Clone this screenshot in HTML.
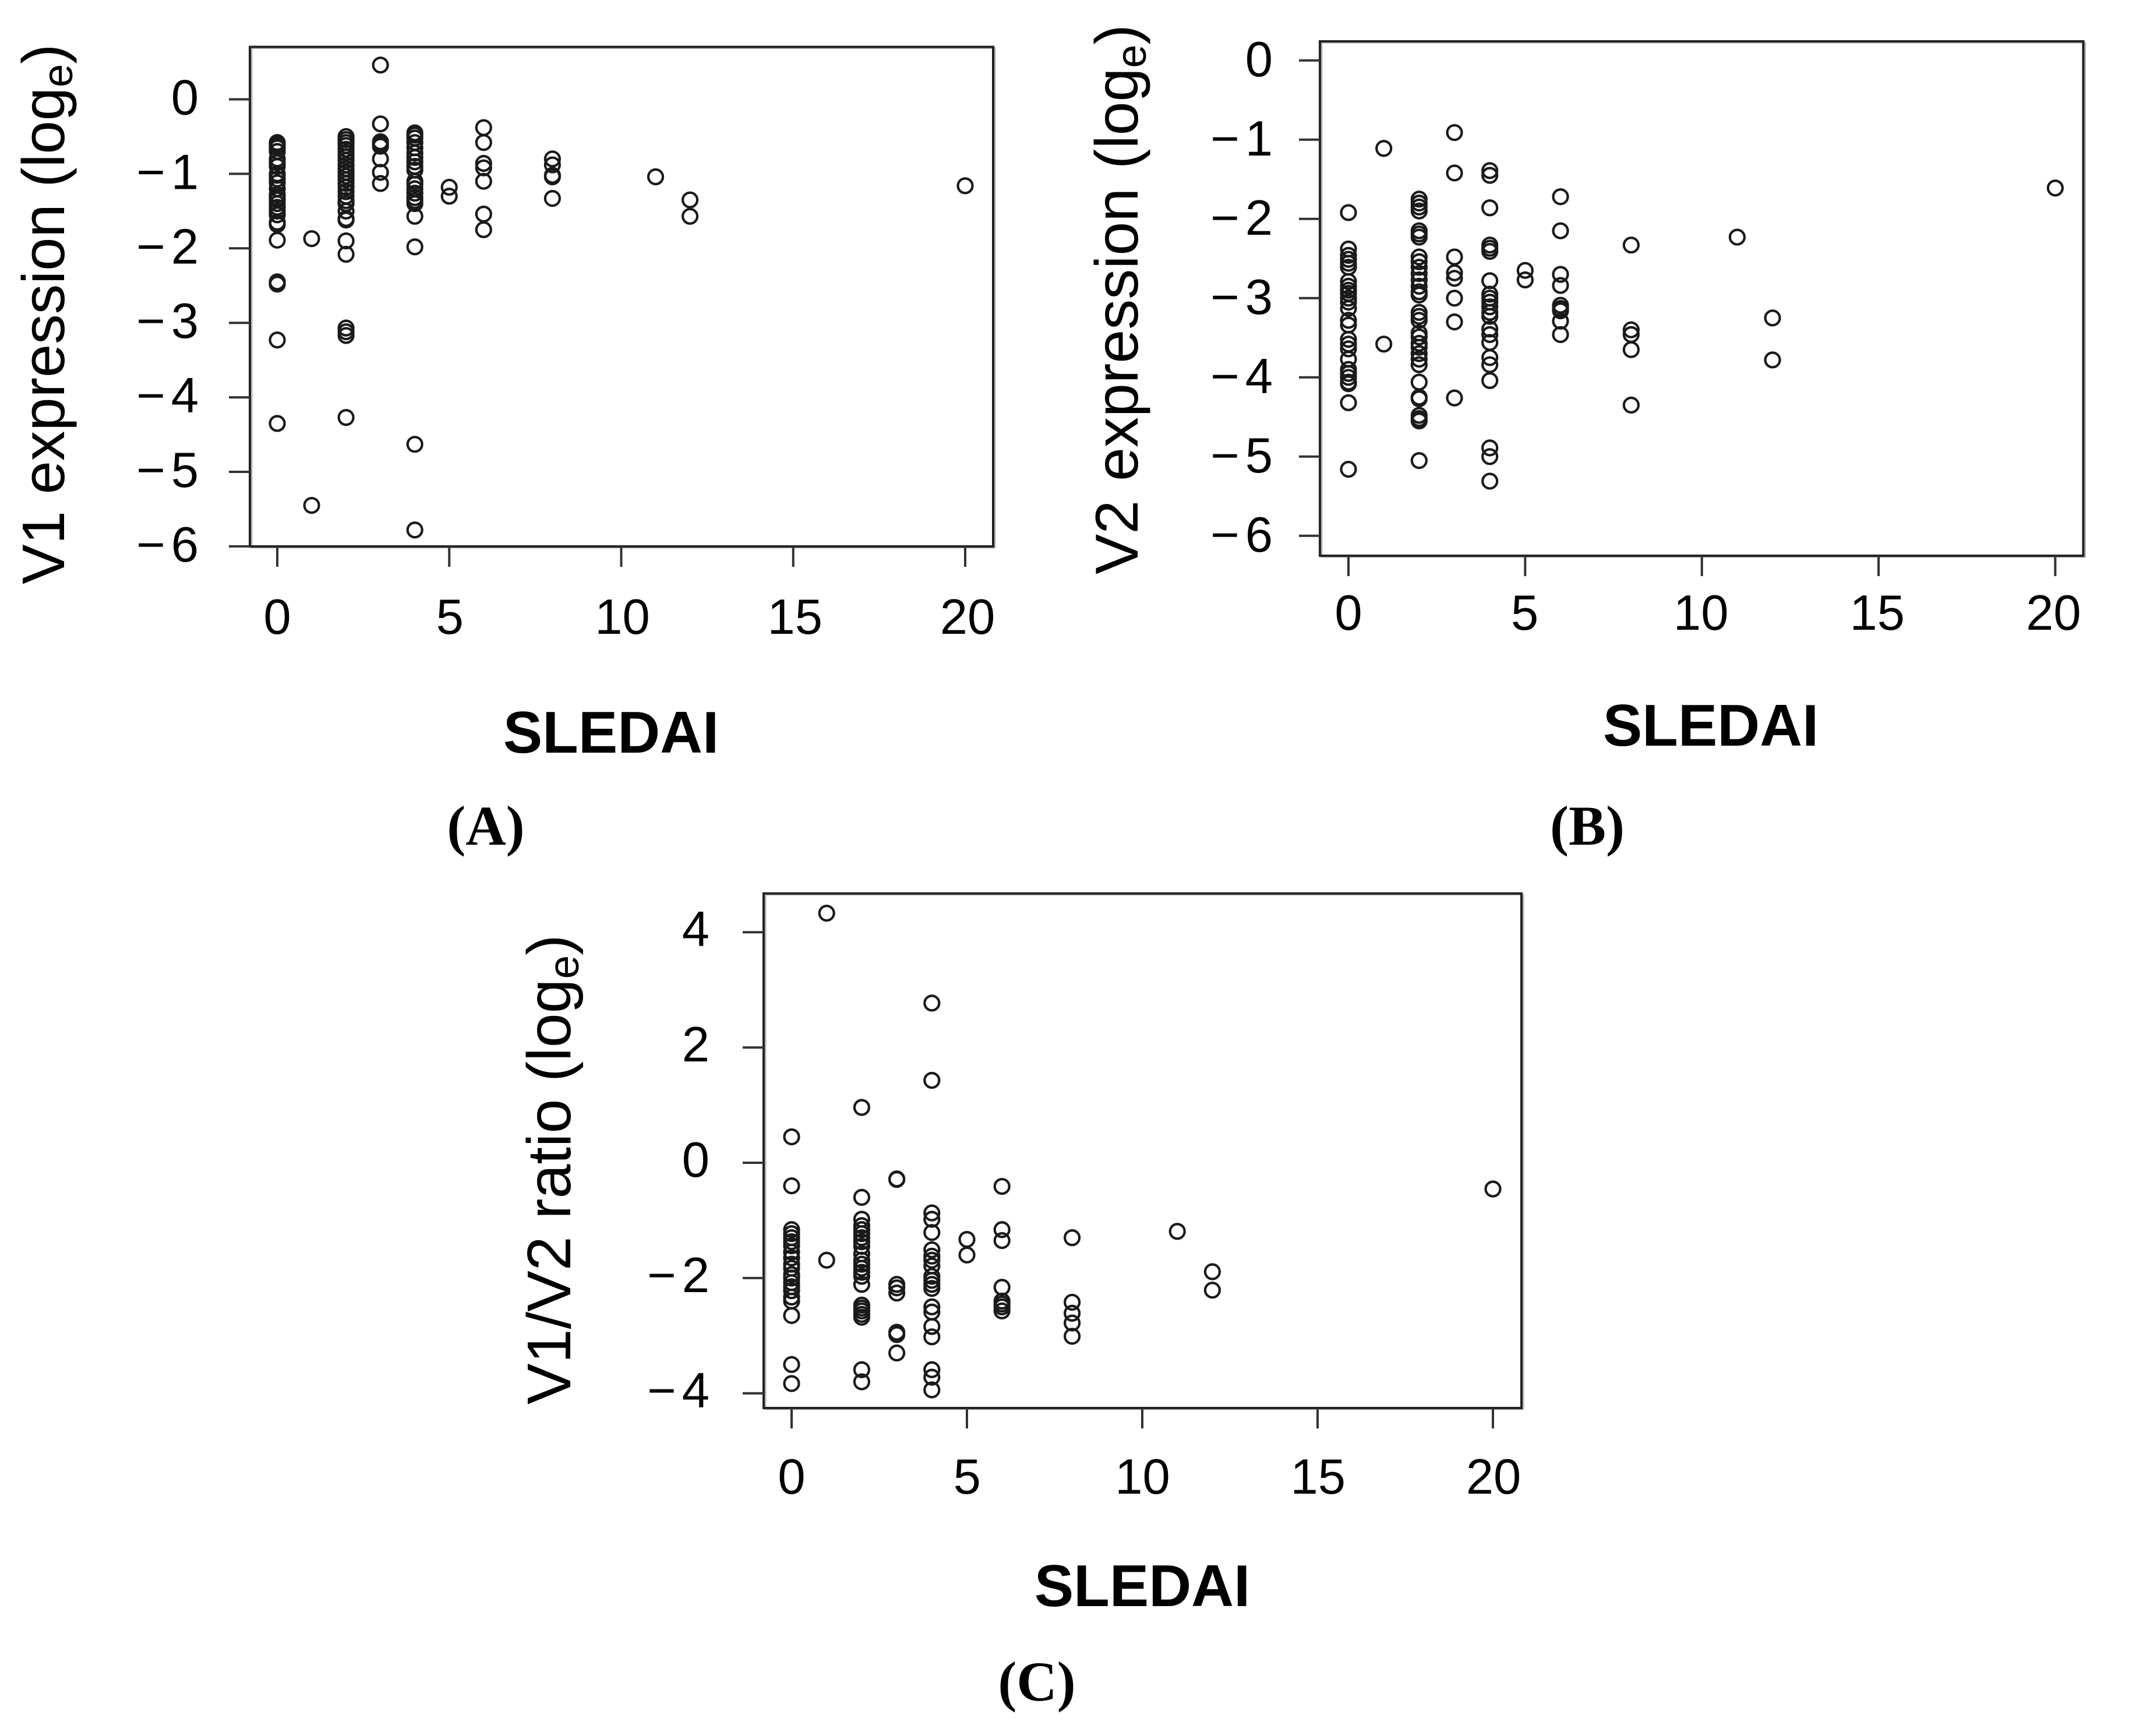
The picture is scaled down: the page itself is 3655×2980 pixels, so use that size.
<!DOCTYPE html>
<html lang="en">
<head>
<meta charset="utf-8">
<title>V1, V2 expression and V1/V2 ratio versus SLEDAI</title>
<style>
html,body{margin:0;padding:0;background:#fff;}
svg{display:block;}
text{font-family:"Liberation Sans",sans-serif;fill:#000;}
.serif{font-family:"Liberation Serif",serif;font-weight:bold;}
.xt{font-size:85px;text-anchor:middle;}
.yt{font-size:85px;text-anchor:end;}
.st{font-size:101px;font-weight:bold;text-anchor:middle;}
.pl{font-size:96px;text-anchor:middle;}
</style>
</head>
<body>
<svg id="figure" xmlns="http://www.w3.org/2000/svg" width="3655" height="2980" viewBox="0 0 3655 2980">
  <rect width="3655" height="2980" fill="#fff"/>

  <g id="panel-a"></g>
  <g id="panel-b"></g>
  <g id="panel-c"></g>

  <text transform="translate(110,1003) rotate(-90)" font-size="103">V1 expression (log<tspan font-size="72" dy="14">e</tspan><tspan dy="-14">)</tspan></text>
  <text transform="translate(1953,986) rotate(-90)" font-size="104" word-spacing="4">V2 expression (log<tspan font-size="72" dy="14">e</tspan><tspan dy="-14">)</tspan></text>
  <text transform="translate(979,2411) rotate(-90)" font-size="106">V1/V2 ratio (log<tspan font-size="73" dy="14">e</tspan><tspan dy="-14">)</tspan></text>

  <text class="st" x="1049" y="1292">SLEDAI</text>
  <text class="st" x="2937" y="1280">SLEDAI</text>
  <text class="st" x="1961" y="2757">SLEDAI</text>

  <text class="serif pl" x="834" y="1450">(A)</text>
  <text class="serif pl" x="2725" y="1450">(B)</text>
  <text class="serif pl" x="1780" y="2919">(C)</text>
</svg>

<script>
const sledaiLevels = [0, 1, 2, 3, 4, 5, 6, 8, 11, 12, 20];
const xTickValues = [0, 5, 10, 15, 20];

const v1TickValues = [0, -1, -2, -3, -4, -5, -6];
const v2TickValues = [0, -1, -2, -3, -4, -5, -6];
const ratioTickValues = [4, 2, 0, -2, -4];

const v1Values = [
  [-0.58,-0.6,-0.62,-0.65,-0.7,-0.8,-0.85,-0.9,-1.0,-1.02,-1.07,-1.12,-1.2,-1.28,-1.32,-1.35,-1.4,-1.45,-1.5,-1.55,-1.65,-1.68,-1.89,-2.45,-2.48,-3.23,-4.35],
  [-1.87,-5.45],
  [-0.5,-0.54,-0.58,-0.62,-0.67,-0.72,-0.77,-0.82,-0.88,-0.93,-0.98,-1.03,-1.08,-1.13,-1.18,-1.24,-1.3,-1.36,-1.4,-1.5,-1.6,-1.62,-1.9,-2.08,-3.07,-3.12,-3.17,-4.27],
  [0.46,-0.33,-0.57,-0.6,-0.63,-0.8,-0.98,-1.13],
  [-0.45,-0.48,-0.52,-0.58,-0.65,-0.72,-0.78,-0.84,-0.9,-0.95,-1.1,-1.14,-1.2,-1.26,-1.32,-1.36,-1.4,-1.57,-1.98,-4.63,-5.78],
  [-1.18,-1.3],
  [-0.38,-0.58,-0.86,-0.92,-1.1,-1.54,-1.75],
  [-0.8,-0.88,-1.02,-1.04,-1.33],
  [-1.04],
  [-1.35,-1.57],
  [-1.16]
];

const v2Values = [
  [-1.92,-2.38,-2.46,-2.51,-2.56,-2.61,-2.79,-2.85,-2.9,-2.94,-3.0,-3.05,-3.13,-3.28,-3.34,-3.52,-3.58,-3.64,-3.77,-3.9,-3.95,-4.0,-4.06,-4.08,-4.32,-5.16],
  [-1.11,-3.58],
  [-1.75,-1.8,-1.85,-1.9,-2.15,-2.19,-2.23,-2.48,-2.54,-2.61,-2.69,-2.77,-2.85,-2.92,-2.96,-3.18,-3.23,-3.28,-3.44,-3.49,-3.57,-3.62,-3.7,-3.77,-3.84,-4.06,-4.25,-4.27,-4.48,-4.52,-4.55,-5.05],
  [-0.91,-1.42,-2.48,-2.68,-2.75,-3.0,-3.3,-4.26],
  [-1.39,-1.45,-1.86,-2.33,-2.37,-2.41,-2.78,-2.95,-3.0,-3.05,-3.11,-3.18,-3.23,-3.39,-3.46,-3.56,-3.75,-3.84,-4.04,-4.89,-5.0,-5.31],
  [-2.65,-2.77],
  [-1.72,-2.15,-2.7,-2.84,-3.09,-3.13,-3.16,-3.29,-3.46],
  [-2.33,-3.4,-3.46,-3.65,-4.35],
  [-2.23],
  [-3.25,-3.78],
  [-1.61]
];

const ratioValues = [
  [0.45,-0.4,-1.16,-1.23,-1.3,-1.37,-1.44,-1.55,-1.65,-1.76,-1.83,-1.94,-2.0,-2.08,-2.15,-2.22,-2.33,-2.4,-2.65,-3.5,-3.83],
  [4.33,-1.69],
  [0.96,-0.6,-0.98,-1.09,-1.16,-1.23,-1.3,-1.37,-1.45,-1.58,-1.69,-1.76,-1.83,-1.9,-1.97,-2.11,-2.47,-2.52,-2.57,-2.63,-2.68,-3.59,-3.8],
  [-0.28,-0.29,-2.11,-2.17,-2.26,-2.94,-2.98,-3.3],
  [2.77,1.43,-0.87,-0.98,-1.21,-1.51,-1.62,-1.69,-1.79,-1.97,-2.04,-2.11,-2.18,-2.5,-2.59,-2.84,-3.02,-3.59,-3.72,-3.94],
  [-1.33,-1.6],
  [-0.41,-1.16,-1.35,-2.16,-2.4,-2.45,-2.5,-2.57],
  [-1.3,-2.42,-2.61,-2.78,-3.01],
  [-1.19],
  [-1.89,-2.21],
  [-0.455]
];

const SVG_NS = 'http://www.w3.org/2000/svg';

function make(tag, attrs, parent) {
  const el = document.createElementNS(SVG_NS, tag);
  for (const key in attrs) {
    el.setAttribute(key, attrs[key]);
  }
  parent.appendChild(el);
  return el;
}

function drawPanel(id, prefix, frame, yTicks, values) {
  const g = document.getElementById(id);
  const scaleX = function (v) { return frame.x0 + v * frame.xUnit; };
  const scaleY = function (v) { return frame.y0 - v * frame.yUnit; };

  const shadow = make('rect', {x: frame.left + 3, y: frame.top + 2, width: frame.right - frame.left, height: frame.bottom - frame.top, fill: 'none', stroke: '#b5b5b5', 'stroke-width': 3}, g);
  
  

  const box = make('rect', {x: frame.left, y: frame.top, width: frame.right - frame.left, height: frame.bottom - frame.top, fill: 'none', stroke: '#222', 'stroke-width': 4}, g);
  
  

  xTickValues.forEach(function (v) {
    const px = scaleX(v);
    const tick = make('line', {x1: px, x2: px, y1: frame.bottom, y2: frame.bottom + 35, stroke: '#333', 'stroke-width': 4}, g);
    
    
    const shift = frame.xLabelShiftLeft + (frame.xLabelShiftRight - frame.xLabelShiftLeft) * v / 20;
    const label = make('text', {x: px + shift, y: frame.xLabelY, class: 'xt'}, g);
    label.textContent = String(v);
    
    
  });

  yTicks.forEach(function (v) {
    const py = scaleY(v);
    const tick = make('line', {x1: frame.left - 36, x2: frame.left, y1: py, y2: py, stroke: '#333', 'stroke-width': 4}, g);
    
    
    const label = make('text', {x: frame.yLabelX, y: py + frame.yLabelDy, class: 'yt'}, g);
    if (v < 0) {
      label.textContent = '\u2212';
      const digit = make('tspan', {dx: 10}, label);
      digit.textContent = String(Math.abs(v));
    } else {
      label.textContent = String(v);
    }
    
    
  });

  sledaiLevels.forEach(function (level, i) {
    values[i].forEach(function (val, j) {
      const point = make('circle', {cx: scaleX(level), cy: scaleY(val), r: 12.5, fill: 'none', stroke: '#1a1a1a', 'stroke-width': 4.2}, g);
      
      
    });
  });
}

drawPanel('panel-a', 'panel-a',
  {left: 429, right: 1705, top: 80.5, bottom: 938, x0: 476, xUnit: 59.05, y0: 170.5, yUnit: 127.9, xLabelY: 1088, xLabelShiftLeft: 0, xLabelShiftRight: 4, yLabelX: 341, yLabelDy: 26},
  v1TickValues, v1Values);

drawPanel('panel-b', 'panel-b',
  {left: 2266, right: 3576.5, top: 71, bottom: 954, x0: 2315, xUnit: 60.67, y0: 103.8, yUnit: 136, xLabelY: 1081, xLabelShiftLeft: 0, xLabelShiftRight: -3, yLabelX: 2185, yLabelDy: 27},
  v2TickValues, v2Values);

drawPanel('panel-c', 'panel-c',
  {left: 1311, right: 2612, top: 1533.7, bottom: 2417, x0: 1359, xUnit: 60.2, y0: 1996, yUnit: 98.95, xLabelY: 2564, xLabelShiftLeft: 0, xLabelShiftRight: 1, yLabelX: 1218, yLabelDy: 24},
  ratioTickValues, ratioValues);
</script>
</body>
</html>
